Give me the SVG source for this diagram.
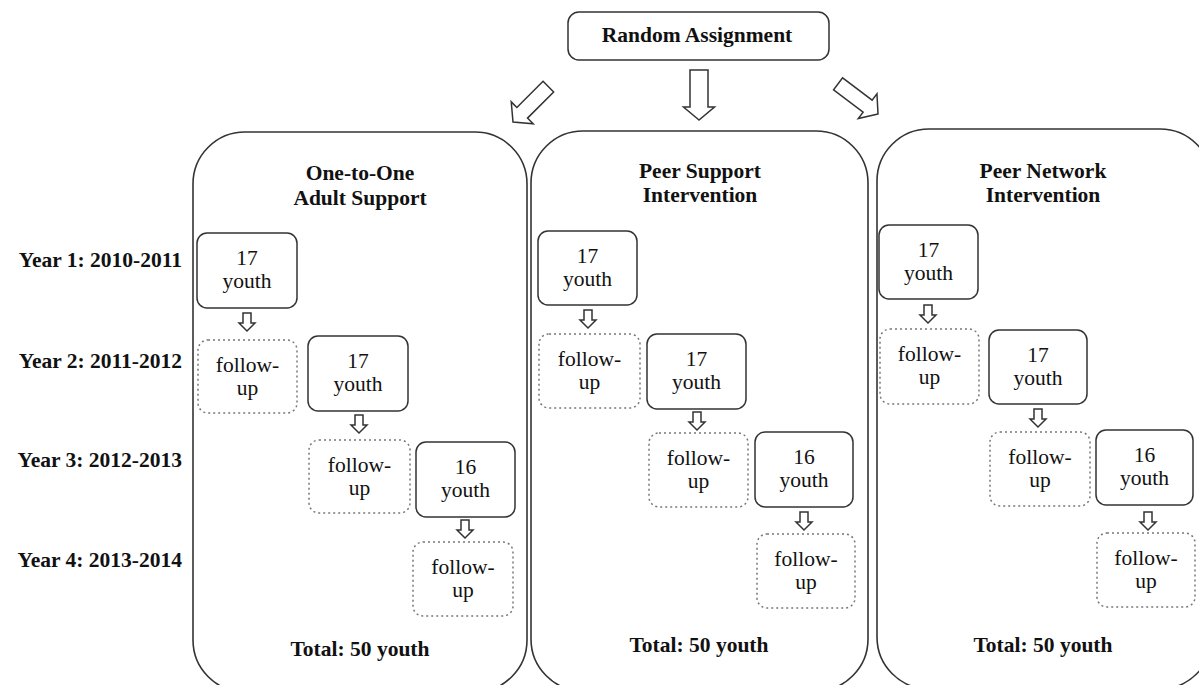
<svg xmlns="http://www.w3.org/2000/svg" width="1199" height="685" viewBox="0 0 1199 685">
<defs>
<style>
.b{font-family:"Liberation Serif","Times New Roman",serif;font-weight:bold;font-size:21.5px;fill:#111}
.r{font-family:"Liberation Serif","Times New Roman",serif;font-size:21.5px;fill:#111}
.panel{fill:none;stroke:#333;stroke-width:1.6}
.box{fill:#fff;stroke:#333;stroke-width:1.5}
.fu{fill:#fff;stroke:#777;stroke-width:1.5;stroke-dasharray:2 3}
.arr{fill:#fff;stroke:#333;stroke-width:1.5;stroke-linejoin:miter}
</style>
<path id="sa" d="M0,0 L-8,-8 L-4,-8 L-4,-18 L4,-18 L4,-8 L8,-8 Z"/>
</defs>
<rect width="1199" height="685" fill="#fff"/>

<g id="years">
<text class="b" x="182" y="267" text-anchor="end">Year 1: 2010-2011</text>
<text class="b" x="182" y="368" text-anchor="end">Year 2: 2011-2012</text>
<text class="b" x="182" y="467" text-anchor="end">Year 3: 2012-2013</text>
<text class="b" x="182" y="567" text-anchor="end">Year 4: 2013-2014</text>
</g>

<g id="random">
<rect class="box" x="568" y="12" width="261" height="48" rx="11"/>
<text class="b" x="697" y="42" text-anchor="middle">Random Assignment</text>
</g>

<g id="panel1">
<rect class="panel" x="193" y="132" width="334" height="560" rx="52"/>
<text class="b" x="360" y="180" text-anchor="middle">One-to-One</text>
<text class="b" x="360" y="205" text-anchor="middle">Adult Support</text>
<text class="b" x="360" y="656" text-anchor="middle">Total: 50 youth</text>
</g>
<g id="panel2">
<rect class="panel" x="531" y="131" width="337" height="560" rx="52"/>
<text class="b" x="700" y="178" text-anchor="middle">Peer Support</text>
<text class="b" x="700" y="202" text-anchor="middle">Intervention</text>
<text class="b" x="699" y="652" text-anchor="middle">Total: 50 youth</text>
</g>
<g id="panel3">
<rect class="panel" x="877" y="129" width="335" height="560" rx="52"/>
<text class="b" x="1043" y="178" text-anchor="middle">Peer Network</text>
<text class="b" x="1043" y="202" text-anchor="middle">Intervention</text>
<text class="b" x="1043" y="652" text-anchor="middle">Total: 50 youth</text>
</g>

<g id="p1y1"><rect class="box" x="197" y="233" width="100" height="75" rx="10"/><text class="r" x="247" y="265" text-anchor="middle">17</text><text class="r" x="247" y="288" text-anchor="middle">youth</text></g>
<g id="p1f1"><rect class="fu" x="198" y="340" width="99" height="73" rx="10"/><text class="r" x="247.5" y="372" text-anchor="middle">follow-</text><text class="r" x="247.5" y="395" text-anchor="middle">up</text></g>
<g id="p1y2"><rect class="box" x="308" y="336" width="100" height="75" rx="10"/><text class="r" x="358" y="368" text-anchor="middle">17</text><text class="r" x="358" y="391" text-anchor="middle">youth</text></g>
<g id="p1f2"><rect class="fu" x="309" y="440" width="101" height="73" rx="10"/><text class="r" x="359.5" y="472" text-anchor="middle">follow-</text><text class="r" x="359.5" y="495" text-anchor="middle">up</text></g>
<g id="p1y3"><rect class="box" x="416" y="442" width="99" height="75" rx="10"/><text class="r" x="465.5" y="474" text-anchor="middle">16</text><text class="r" x="465.5" y="497" text-anchor="middle">youth</text></g>
<g id="p1f3"><rect class="fu" x="413" y="542" width="100" height="74" rx="10"/><text class="r" x="463" y="574" text-anchor="middle">follow-</text><text class="r" x="463" y="597" text-anchor="middle">up</text></g>

<g id="p2y1"><rect class="box" x="538" y="231" width="99" height="74" rx="10"/><text class="r" x="587.5" y="263" text-anchor="middle">17</text><text class="r" x="587.5" y="286" text-anchor="middle">youth</text></g>
<g id="p2f1"><rect class="fu" x="539" y="334" width="101" height="74" rx="10"/><text class="r" x="589.5" y="366" text-anchor="middle">follow-</text><text class="r" x="589.5" y="389" text-anchor="middle">up</text></g>
<g id="p2y2"><rect class="box" x="647" y="334" width="99" height="75" rx="10"/><text class="r" x="696.5" y="366" text-anchor="middle">17</text><text class="r" x="696.5" y="389" text-anchor="middle">youth</text></g>
<g id="p2f2"><rect class="fu" x="649" y="433" width="99" height="74" rx="10"/><text class="r" x="698.5" y="465" text-anchor="middle">follow-</text><text class="r" x="698.5" y="488" text-anchor="middle">up</text></g>
<g id="p2y3"><rect class="box" x="755" y="432" width="98" height="75" rx="10"/><text class="r" x="804" y="464" text-anchor="middle">16</text><text class="r" x="804" y="487" text-anchor="middle">youth</text></g>
<g id="p2f3"><rect class="fu" x="757" y="534" width="98" height="74" rx="10"/><text class="r" x="806" y="566" text-anchor="middle">follow-</text><text class="r" x="806" y="589" text-anchor="middle">up</text></g>

<g id="p3y1"><rect class="box" x="879" y="225" width="99" height="74" rx="10"/><text class="r" x="928.5" y="257" text-anchor="middle">17</text><text class="r" x="928.5" y="280" text-anchor="middle">youth</text></g>
<g id="p3f1"><rect class="fu" x="880" y="329" width="99" height="75" rx="10"/><text class="r" x="929.5" y="361" text-anchor="middle">follow-</text><text class="r" x="929.5" y="384" text-anchor="middle">up</text></g>
<g id="p3y2"><rect class="box" x="989" y="330" width="98" height="74" rx="10"/><text class="r" x="1038" y="362" text-anchor="middle">17</text><text class="r" x="1038" y="385" text-anchor="middle">youth</text></g>
<g id="p3f2"><rect class="fu" x="990" y="432" width="100" height="74" rx="10"/><text class="r" x="1040" y="464" text-anchor="middle">follow-</text><text class="r" x="1040" y="487" text-anchor="middle">up</text></g>
<g id="p3y3"><rect class="box" x="1096" y="430" width="97" height="75" rx="10"/><text class="r" x="1144.5" y="462" text-anchor="middle">16</text><text class="r" x="1144.5" y="485" text-anchor="middle">youth</text></g>
<g id="p3f3"><rect class="fu" x="1097" y="533" width="98" height="74" rx="10"/><text class="r" x="1146" y="565" text-anchor="middle">follow-</text><text class="r" x="1146" y="588" text-anchor="middle">up</text></g>

<g id="connectors">
<path class="arr" transform="translate(513,122) rotate(45)" d="M0,0 L-15.5,-13 L-7.5,-13 L-7.5,-50 L7.5,-50 L7.5,-13 L15.5,-13 Z"/>
<path class="arr" d="M699,120 L683.5,107 L690,107 L690,70 L708,70 L708,107 L714.5,107 Z"/>
<path class="arr" transform="translate(878,114) rotate(-53)" d="M0,0 L-15.5,-13 L-7.5,-13 L-7.5,-50 L7.5,-50 L7.5,-13 L15.5,-13 Z"/>
<use href="#sa" class="arr" x="247" y="331"/>
<use href="#sa" class="arr" x="359" y="433"/>
<use href="#sa" class="arr" x="465" y="538"/>
<use href="#sa" class="arr" x="588" y="328"/>
<use href="#sa" class="arr" x="697" y="430"/>
<use href="#sa" class="arr" x="804" y="530"/>
<use href="#sa" class="arr" x="928" y="323"/>
<use href="#sa" class="arr" x="1038" y="427"/>
<use href="#sa" class="arr" x="1148" y="530"/>
</g>
</svg>
